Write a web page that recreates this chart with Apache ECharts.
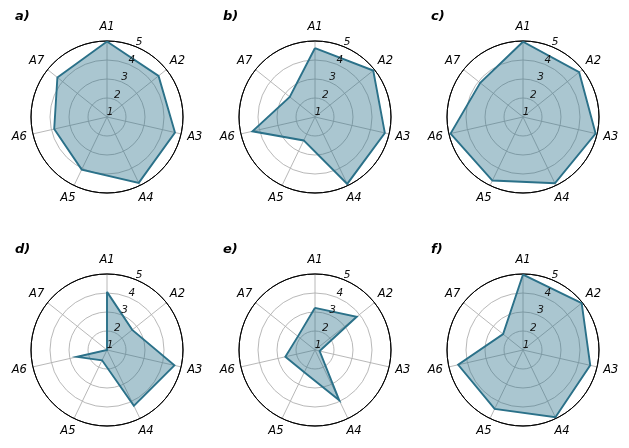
<!DOCTYPE html>
<html><head><meta charset="utf-8">
<script src="https://cdn.jsdelivr.net/npm/echarts@6/dist/echarts.min.js"></script>
<style>html,body{margin:0;padding:0;background:#fff}#c{width:629px;height:448px}</style>
</head><body><div id="c"></div>
<script>
// ---- data ----
const categories = ['A1', 'A2', 'A3', 'A4', 'A5', 'A6', 'A7'];
const panelLabels = ['a)', 'b)', 'c)', 'd)', 'e)', 'f)'];
const radialTicks = [1, 2, 3, 4, 5];
const valuesA = [4.97, 4.47, 4.67, 4.85, 4.07, 3.85, 4.34];
const valuesB = [4.63, 4.92, 4.77, 4.91, 2.37, 4.38, 2.70];
const valuesC = [4.96, 4.78, 4.92, 4.87, 4.71, 4.91, 3.88];
const valuesD = [4.06, 2.70, 4.64, 4.26, 1.60, 2.62, 1.00];
const valuesE = [3.22, 3.81, 1.25, 3.94, 2.30, 2.60, 2.15];
const valuesF = [4.97, 4.95, 4.63, 4.93, 4.44, 4.50, 2.34];
const allValues = [valuesA, valuesB, valuesC, valuesD, valuesE, valuesF];

// ---- layout / style ----
const FONT = 'DejaVu Sans';
const centers = [[107, 117], [315, 117], [523, 117], [107, 350], [315, 350], [523, 350]];
const RADIUS = 76;
const NAME_RADIUS = 90;
const RMIN = 1, RMAX = 5;
const N = categories.length;
const TICK_ANGLE = 22.5 / (360 / N);
const LINE = '#2b7189';
const GRID = '#b0b0b0';
const P = allValues.length;

const labelItem = { color: 'rgba(0,0,0,0)', opacity: 1, borderWidth: 0 };
const polar = [], angleAxis = [], radiusAxis = [], series = [], title = [];
// main polar systems
allValues.forEach((vals, i) => {
  const [cx, cy] = centers[i];
  polar.push({ center: [cx, cy], radius: RADIUS });
  angleAxis.push({
    polarIndex: i, type: 'value', min: 0, max: N, interval: 1,
    startAngle: 90, clockwise: true,
    axisLine: { show: true, lineStyle: { color: '#000', width: 1 } },
    axisTick: { show: false }, axisLabel: { show: false },
    splitLine: { show: true, lineStyle: { color: GRID, width: 0.9 } },
    z: 1
  });
  radiusAxis.push({
    polarIndex: i, type: 'value', min: RMIN, max: RMAX, interval: 1,
    axisLine: { show: false }, axisTick: { show: false }, axisLabel: { show: false },
    splitLine: { show: true, lineStyle: { color: [GRID, GRID, GRID, GRID, '#000'], width: 0.9 } },
    z: 0
  });
  const lineData = vals.map((v, k) => [v, k]);
  lineData.push([vals[0], N]);
  series.push({
    type: 'line', coordinateSystem: 'polar', polarIndex: i,
    data: lineData, showSymbol: false, symbol: 'none', clip: false,
    lineStyle: { color: LINE, width: 1.9, join: 'miter' },
    areaStyle: { color: LINE, opacity: 0.4 },
    silent: true, animation: false, z: 2
  });
  series.push({
    type: 'scatter', coordinateSystem: 'polar', polarIndex: i,
    data: radialTicks.map(t => [t, TICK_ANGLE]),
    symbolSize: 0.1, itemStyle: labelItem,
    label: {
      show: true, position: 'inside', offset: [3, -4.5],
      formatter: p => String(radialTicks[p.dataIndex]),
      fontFamily: FONT, fontSize: 10.5, fontStyle: 'italic', color: '#111',
      textBorderWidth: 0, opacity: 1
    },
    silent: true, animation: false, z: 3
  });
  title.push({
    text: panelLabels[i], left: cx - 92, top: cy - 107, padding: 0,
    textStyle: { fontFamily: FONT, fontSize: 13, fontWeight: 'bold', fontStyle: 'italic', color: '#000' }
  });
});
// hidden polar systems carrying the category names at a larger radius
allValues.forEach((vals, i) => {
  const [cx, cy] = centers[i];
  const pi = P + i;
  polar.push({ center: [cx, cy], radius: NAME_RADIUS });
  angleAxis.push({
    polarIndex: pi, type: 'value', min: 0, max: N, interval: 1,
    startAngle: 90, clockwise: true, show: false,
    axisLine: { show: false }, axisTick: { show: false }, axisLabel: { show: false }, splitLine: { show: false }
  });
  radiusAxis.push({
    polarIndex: pi, type: 'value', min: 0, max: 1, show: false,
    axisLine: { show: false }, axisTick: { show: false }, axisLabel: { show: false }, splitLine: { show: false }
  });
  series.push({
    type: 'scatter', coordinateSystem: 'polar', polarIndex: pi,
    data: categories.map((c, k) => [1, k]),
    symbolSize: 0.1, itemStyle: labelItem,
    label: {
      show: true, position: 'inside',
      formatter: p => categories[p.dataIndex],
      fontFamily: FONT, fontSize: 11.5, fontStyle: 'italic', color: '#000',
      textBorderWidth: 0, opacity: 1
    },
    silent: true, animation: false, z: 3
  });
});

const chart = echarts.init(document.getElementById('c'), null, { renderer: 'canvas' });
chart.setOption({
  backgroundColor: '#fff',
  animation: false,
  title, polar, angleAxis, radiusAxis, series
});
</script>
</body></html>
